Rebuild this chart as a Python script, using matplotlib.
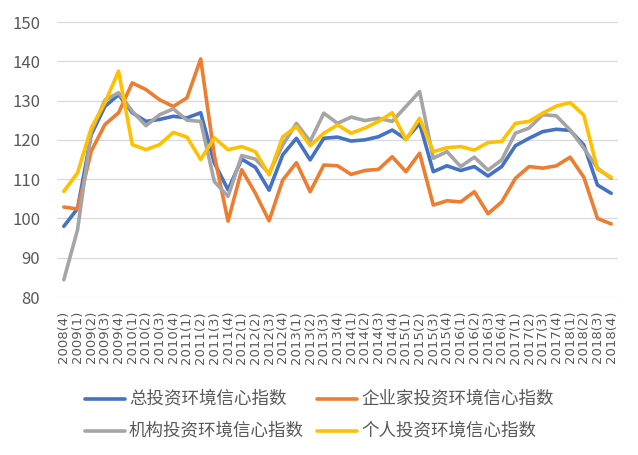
import matplotlib
matplotlib.use("Agg")
import matplotlib.pyplot as plt

plt.rcParams['font.family'] = ['Noto Sans CJK SC', 'DejaVu Sans']

# trimestres 2008(4) .. 2018(4)
trimestres = []
for anio in range(2008, 2019):
    for q in range(1, 5):
        if (anio == 2008 and q < 4):
            continue
        trimestres.append(f"{anio}({q})")

total = [98.0, 102.5, 121.3, 128.5, 131.5, 126.9, 124.7, 125.2, 126.0, 125.6,
         126.9, 114.1, 107.3, 115.1, 113.0, 107.2, 116.2, 120.4, 114.9, 120.4,
         120.7, 119.7, 120.0, 120.8, 122.5, 120.2, 124.2, 111.9, 113.4, 112.2,
         113.2, 110.8, 113.2, 118.5, 120.4, 122.1, 122.7, 122.4, 118.7, 108.5,
         106.4]
empresarios = [102.9, 102.4, 117.1, 123.9, 126.9, 134.5, 132.8, 130.2, 128.5, 130.7,
               140.6, 116.0, 99.3, 112.4, 106.4, 99.4, 109.8, 114.2, 106.8, 113.6,
               113.4, 111.2, 112.2, 112.5, 115.7, 111.9, 116.6, 103.4, 104.5, 104.2,
               106.8, 101.2, 104.2, 110.2, 113.2, 112.8, 113.4, 115.6, 110.5, 100.0,
               98.6]
instituciones = [84.4, 97.1, 122.0, 130.1, 132.0, 127.3, 123.6, 126.4, 127.9, 125.0,
                 124.7, 109.4, 105.6, 116.0, 115.1, 111.5, 118.7, 124.2, 119.6, 126.8,
                 124.2, 125.8, 124.9, 125.5, 124.7, 128.5, 132.3, 115.3, 117.0, 113.2,
                 115.6, 112.3, 114.9, 121.7, 123.0, 126.4, 126.1, 122.5, 117.9, 112.8,
                 110.2]
individuos = [106.9, 111.6, 123.0, 129.4, 137.5, 118.8, 117.5, 118.8, 121.9, 120.7,
              115.0, 120.5, 117.5, 118.3, 117.0, 111.1, 120.8, 123.4, 118.5, 121.7,
              123.8, 121.7, 123.0, 124.7, 126.9, 120.0, 125.5, 117.0, 118.0, 118.3,
              117.4, 119.3, 119.6, 124.2, 124.7, 126.8, 128.6, 129.5, 126.3, 112.5,
              110.5]

series = [
    ('总投资环境信心指数', total, '#4472C4'),
    ('企业家投资环境信心指数', empresarios, '#ED7D31'),
    ('机构投资环境信心指数', instituciones, '#A5A5A5'),
    ('个人投资环境信心指数', individuos, '#FFC000'),
]

fig = plt.figure(figsize=(6.38, 4.55), dpi=100)
ax = fig.add_axes([57 / 638, 1 - 297 / 455, 561 / 638, 275 / 455])

x = range(len(trimestres))
for nombre, valores, color in series:
    ax.plot(x, valores, color=color, linewidth=2.6, label=nombre,
            solid_joinstyle='round', solid_capstyle='round')

ax.set_ylim(80, 150)
ax.set_yticks(range(80, 151, 10))
ax.set_xlim(-0.5, len(trimestres) - 0.5)
ax.set_xticks(list(x))
ax.set_xticklabels(trimestres, rotation=90, fontsize=9.5, family='DejaVu Sans', color='#595959')
ax.tick_params(axis='y', labelsize=12, colors='#595959', length=0, pad=12)
ax.tick_params(axis='x', length=0, pad=10)
ax.grid(axis='y', color='#d9d9d9', linewidth=0.9)
ax.set_axisbelow(True)
for s in ax.spines.values():
    s.set_visible(False)

# orden de la leyenda: dos columnas
handles, labels = ax.get_legend_handles_labels()
orden = [0, 2, 1, 3]
fig.legend([handles[i] for i in orden], [labels[i] for i in orden], ncol=2,
           loc='upper left', bbox_to_anchor=(76 / 638, 1 - 382 / 455),
           frameon=False, fontsize=12.6, handlelength=2.3, handletextpad=0.22,
           columnspacing=0.75, labelspacing=0.8, borderpad=0, labelcolor='#595959')

plt.savefig("out.png", dpi=100)
